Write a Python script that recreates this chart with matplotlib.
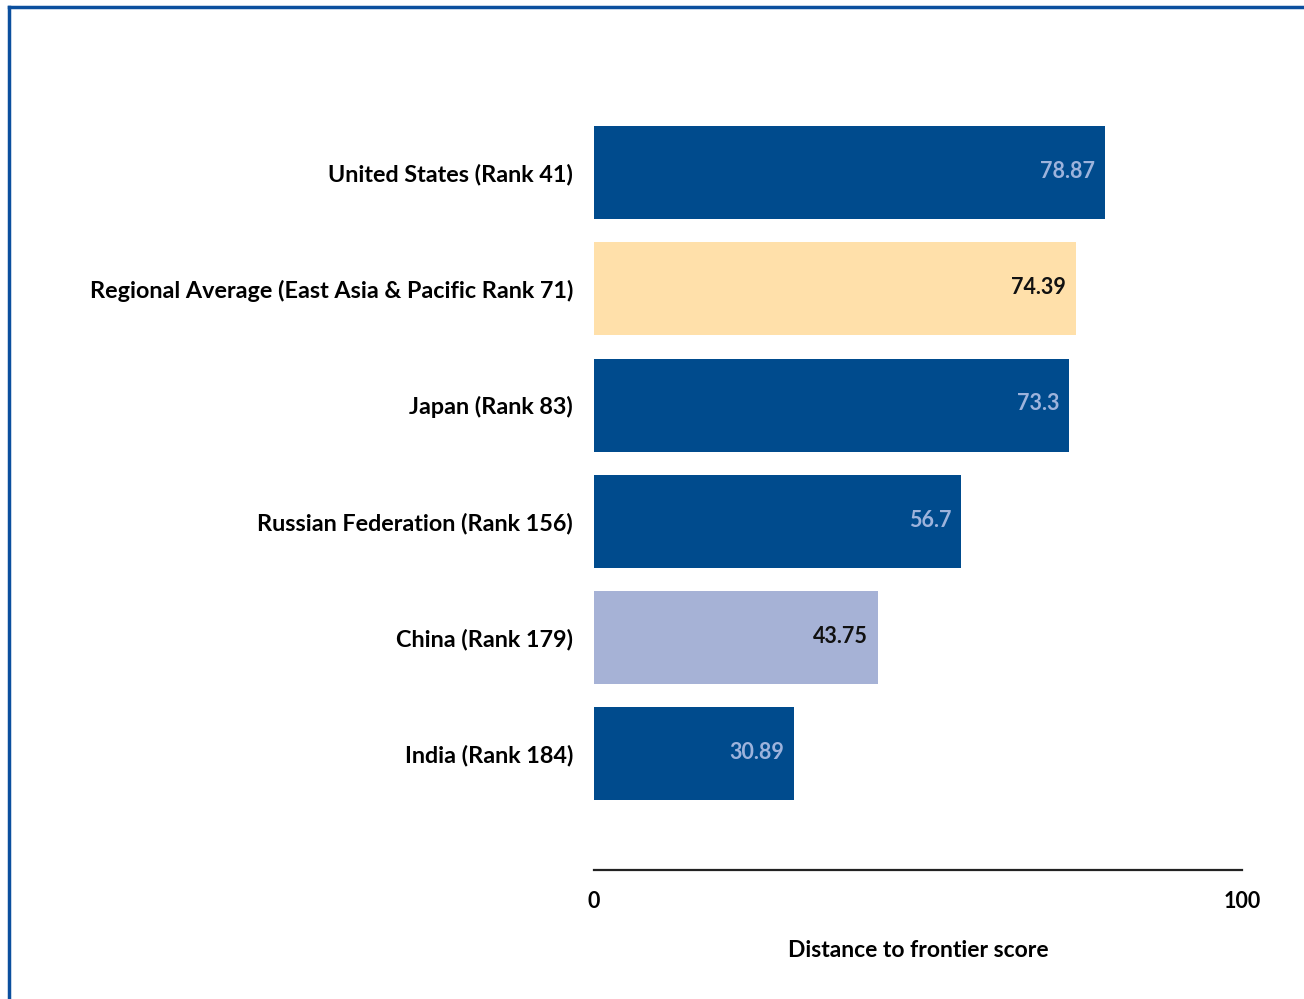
import matplotlib.pyplot as plt
from matplotlib.lines import Line2D

labels = ['United States (Rank 41)',
          'Regional Average (East Asia & Pacific Rank 71)',
          'Japan (Rank 83)',
          'Russian Federation (Rank 156)',
          'China (Rank 179)',
          'India (Rank 184)']
scores = [78.87, 74.39, 73.3, 56.7, 43.75, 30.89]
value_text = ['78.87', '74.39', '73.3', '56.7', '43.75', '30.89']

dark = '#004B8D'
bar_colors = [dark, '#FFE0AA', dark, dark, '#A6B2D6', dark]
text_colors = ['#9DB3DC', '#111111', '#9DB3DC', '#9DB3DC', '#111111', '#9DB3DC']

plt.rcParams['font.family'] = ['Lato', 'DejaVu Sans']

fig = plt.figure(figsize=(13.04, 9.99), dpi=100)
ax = fig.add_axes([0.4555, 0.129, 0.497, 0.768])

n = len(labels)
ypos = [n - 1 - i for i in range(n)]
ax.barh(ypos, scores, height=0.8, color=bar_colors)

# value labels inside the right end of each bar
for y, v, t, c in zip(ypos, scores, value_text, text_colors):
    ax.text(v - 1.5, y + 0.01, t, ha='right', va='center', color=c,
            fontsize=15.5, fontweight='bold')

ax.set_xlim(0, 100)
ax.set_ylim(-1.0, 5.6)
ax.set_yticks(ypos)
ax.set_yticklabels(labels, fontsize=16.8, fontweight='bold')
ax.tick_params(axis='y', length=0, pad=15)
ax.set_xticks([0, 100])
ax.set_xticklabels(['0', '100'], fontsize=15.5, fontweight='bold')
ax.tick_params(axis='x', length=0, pad=15)

for s in ['top', 'right', 'left']:
    ax.spines[s].set_visible(False)
ax.spines['bottom'].set_color('#222222')
ax.spines['bottom'].set_linewidth(1.6)

ax.set_xlabel('Distance to frontier score', fontsize=16.5, fontweight='bold',
              labelpad=20)

# frame lines along the top and left edges
fig.add_artist(Line2D([9 / 1304, 9 / 1304], [0, 1 - 7 / 999],
                      transform=fig.transFigure, color='#0B4F9E', lw=2.5))
fig.add_artist(Line2D([9 / 1304, 1], [1 - 7 / 999, 1 - 7 / 999],
                      transform=fig.transFigure, color='#0B4F9E', lw=2.5))

fig.savefig('out.png', dpi=100, facecolor='white')
